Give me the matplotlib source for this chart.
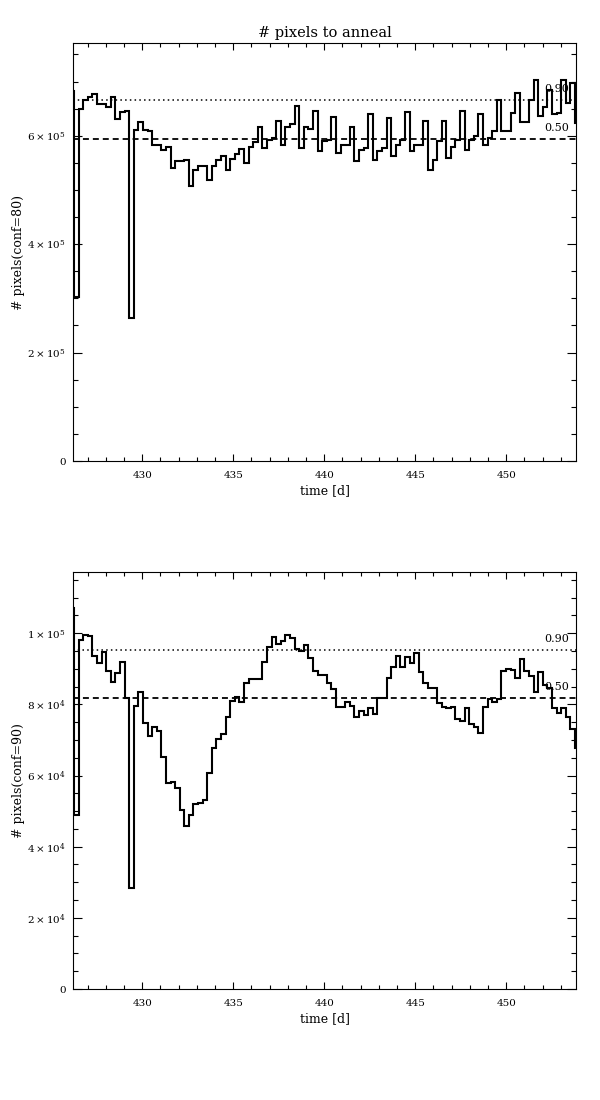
import numpy as np
import matplotlib
matplotlib.use('Agg')
import matplotlib.pyplot as plt
from matplotlib.ticker import MultipleLocator, FixedLocator

plt.rcParams['font.family'] = ['DejaVu Serif']
plt.rcParams['mathtext.fontset'] = 'dejavuserif'

# time bins [d]: one value per readout, ~6 h cadence
t_start = 426.0
t_step = 0.2525

# pixels to anneal, conf=80 (units of 1e5)
conf80 = [6.82, 3.03, 6.49, 6.66, 6.71, 6.77, 6.59, 6.59, 6.53, 6.71,
          6.31, 6.43, 6.45, 2.64, 6.11, 6.25, 6.10, 6.08, 5.83, 5.82,
          5.73, 5.79, 5.40, 5.53, 5.53, 5.55, 5.08, 5.36, 5.45, 5.45,
          5.19, 5.45, 5.55, 5.62, 5.37, 5.57, 5.67, 5.75, 5.50, 5.80,
          5.88, 6.16, 5.77, 5.93, 5.96, 6.27, 5.83, 6.17, 6.22, 6.54,
          5.77, 6.16, 6.12, 6.45, 5.71, 5.90, 5.93, 6.34, 5.69, 5.83,
          5.83, 6.17, 5.53, 5.74, 5.77, 6.40, 5.55, 5.71, 5.77, 6.33,
          5.63, 5.83, 5.93, 6.43, 5.71, 5.82, 5.82, 6.27, 5.37, 5.56,
          5.91, 6.28, 5.59, 5.79, 5.93, 6.45, 5.74, 5.93, 5.99, 6.40,
          5.82, 5.96, 6.08, 6.66, 6.09, 6.09, 6.42, 6.79, 6.25, 6.25,
          6.66, 7.02, 6.36, 6.53, 6.85, 6.40, 6.42, 7.03, 6.60, 6.98,
          6.23]

# pixels to anneal, conf=90 (units of 1e4)
conf90 = [10.70, 4.88, 9.81, 9.95, 9.92, 9.36, 9.17, 9.46, 8.95, 8.64,
          8.89, 9.18, 8.17, 2.85, 7.95, 8.36, 7.48, 7.11, 7.35, 7.26,
          6.51, 5.79, 5.82, 5.65, 5.02, 4.57, 4.88, 5.21, 5.24, 5.30,
          6.06, 6.76, 7.04, 7.18, 7.65, 8.10, 8.21, 8.07, 8.59, 8.70,
          8.72, 8.72, 9.20, 9.60, 9.89, 9.69, 9.78, 9.95, 9.86, 9.55,
          9.51, 9.67, 9.30, 8.95, 8.83, 8.83, 8.61, 8.42, 7.93, 7.93,
          8.07, 7.95, 7.65, 7.82, 7.70, 7.91, 7.73, 8.17, 8.17, 8.73,
          9.04, 9.36, 9.06, 9.34, 9.17, 9.45, 8.92, 8.59, 8.45, 8.45,
          8.05, 7.93, 7.91, 7.93, 7.60, 7.54, 7.89, 7.45, 7.37, 7.20,
          7.93, 8.14, 8.07, 8.14, 8.95, 9.00, 8.97, 8.73, 9.27, 8.95,
          8.80, 8.36, 8.92, 8.54, 8.45, 7.91, 7.76, 7.89, 7.65, 7.32,
          6.76]

# quantile levels
q_labels = ['0.90', '0.50']
q80 = [6.65e5, 5.935e5]
q90 = [9.53e4, 8.19e4]

yt80 = [0, 2e5, 4e5, 6e5]
yl80 = ['0', r'$2\times10^{5}$', r'$4\times10^{5}$', r'$6\times10^{5}$']
yt90 = [0, 2e4, 4e4, 6e4, 8e4, 1e5]
yl90 = ['0', r'$2\times10^{4}$', r'$4\times10^{4}$', r'$6\times10^{4}$',
        r'$8\times10^{4}$', r'$1\times10^{5}$']


def panel(ax, vals, scale, levels, ymax, yticks, ylabels, yminor, ylabel):
    vals = np.array(vals) * scale
    edges = t_start + t_step * np.arange(len(vals) + 1)
    ax.stairs(vals, edges, baseline=None, color='k', lw=1.5)
    ax.axhline(levels[0], color='k', lw=1.1, ls=(0, (1, 2.1)))
    ax.axhline(levels[1], color='k', lw=1.3, ls=(0, (3.3, 2.2)))
    for lab, lev in zip(q_labels, levels):
        ax.annotate(lab, xy=(1, lev), xycoords=('axes fraction', 'data'),
                    xytext=(-7, 11), textcoords='offset pixels',
                    ha='right', va='center', fontsize=8)

    ax.set_xlim(426.2, 453.83)
    ax.set_ylim(0, ymax)
    ax.xaxis.set_major_locator(MultipleLocator(5))
    ax.xaxis.set_minor_locator(MultipleLocator(1))
    ax.yaxis.set_major_locator(FixedLocator(yticks))
    ax.set_yticklabels(ylabels)
    ax.yaxis.set_minor_locator(MultipleLocator(yminor))

    ax.tick_params(which='both', direction='in', top=True, right=True,
                   labelsize=7.5, width=0.8)
    ax.tick_params(axis='x', which='major', length=5, pad=7)
    ax.tick_params(axis='x', which='minor', length=2.8)
    ax.tick_params(axis='y', which='major', length=6.5, pad=5)
    ax.tick_params(axis='y', which='minor', length=3.5)
    for s in ax.spines.values():
        s.set_linewidth(0.8)

    ax.set_xlabel('time [d]', fontsize=9, labelpad=3)
    ax.set_ylabel(ylabel, fontsize=9, labelpad=1.5)


fig = plt.figure(figsize=(6, 11), dpi=100)
ax1 = fig.add_axes([0.1217, 0.5809, 0.8383, 0.38])
ax2 = fig.add_axes([0.1217, 0.1009, 0.8383, 0.3791])

panel(ax1, conf80, 1e5, q80, 7.71e5, yt80, yl80, 0.5e5, '# pixels(conf=80)')
panel(ax2, conf90, 1e4, q90, 1.172e5, yt90, yl90, 0.5e4, '# pixels(conf=90)')
ax1.set_title('# pixels to anneal', fontsize=10.5, pad=4)

fig.savefig('out.png', dpi=100)
